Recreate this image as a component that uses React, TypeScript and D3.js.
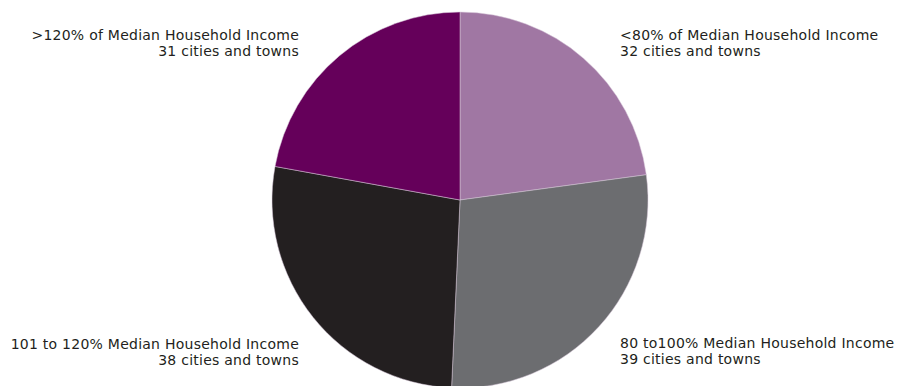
import React from "react";
import * as d3 from "d3";

const categories = [
  "<80% of Median Household Income",
  "80 to100% Median Household Income",
  "101 to 120% Median Household Income",
  ">120% of Median Household Income",
];
const counts = [32, 39, 38, 31];
const subLabels = ["32 cities and towns", "39 cities and towns", "38 cities and towns", "31 cities and towns"];
const colors = ["#a077a3", "#6c6d70", "#231f20", "#65005a"];

const W = 906;
const H = 386;
const cx = 460;
const cy = 200;
const R = 188;

// label anchor points: [x, baseline y, anchor]
const labelPos: [number, number, "start" | "end"][] = [
  [620, 40, "start"],
  [620, 348, "start"],
  [299, 349, "end"],
  [299, 40, "end"],
];

export default function App() {
  const pie = d3.pie<number>().sort(null).value((d) => d);
  const arcs = pie(counts);
  const arc = d3.arc<d3.PieArcDatum<number>>().innerRadius(0).outerRadius(R);
  return (
    <svg
      width={W}
      height={H}
      style={{ position: "absolute", left: 0, top: 0, display: "block" }}
      fontFamily="'DejaVu Sans', sans-serif"
    >
      <rect width={W} height={H} fill="#ffffff" />
      <g transform={`translate(${cx},${cy})`}>
        {arcs.map((a, i) => (
          <path key={i} d={arc(a) || ""} fill={colors[i]} stroke="#d9c8da" strokeWidth={0.5} />
        ))}
      </g>
      {categories.map((c, i) => {
        const [x, y, anchor] = labelPos[i];
        return (
          <g key={i} fontSize={14} letterSpacing={0.25} fill="#231f20" textAnchor={anchor}>
            <text x={x} y={y}>{c}</text>
            <text x={x} y={y + 15.5}>{subLabels[i]}</text>
          </g>
        );
      })}
    </svg>
  );
}
